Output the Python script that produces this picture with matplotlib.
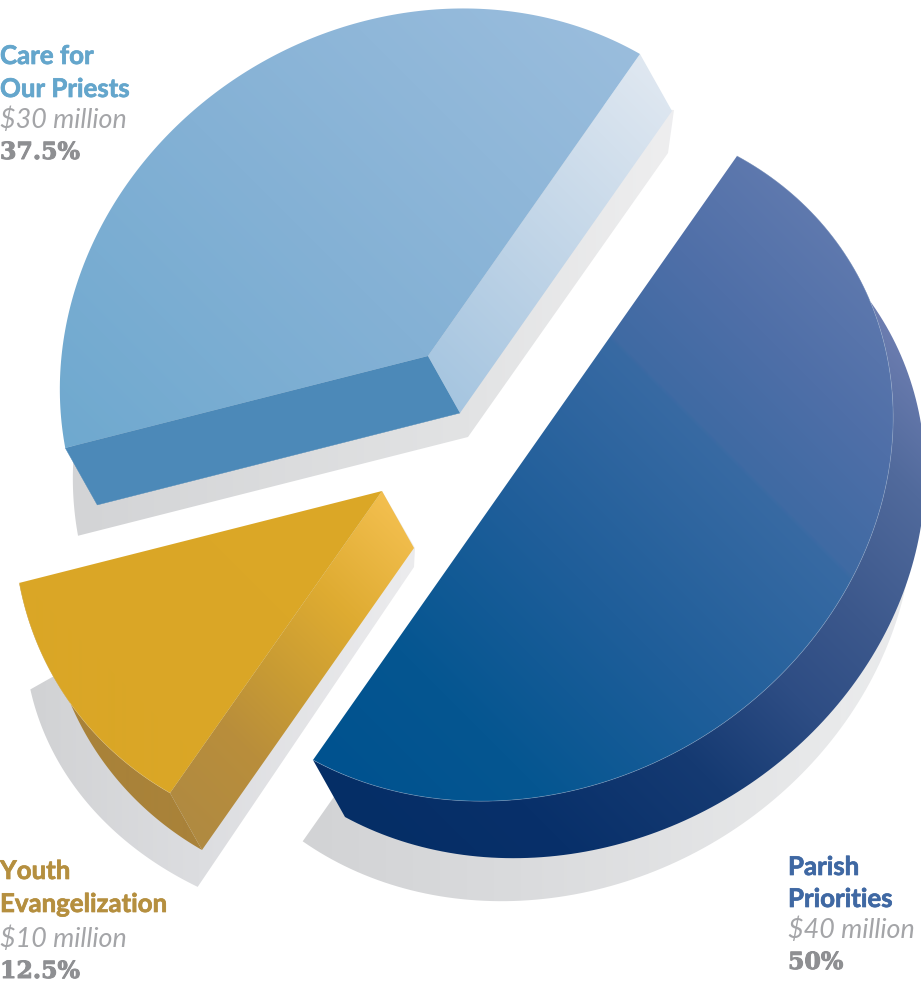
import numpy as np
from matplotlib import pyplot as plt
from matplotlib import patheffects
from matplotlib.colors import to_rgb
from matplotlib.patches import Polygon

# data
names = ["Care for\nOur Priests", "Youth\nEvangelization", "Parish\nPriorities"]
millions = [30, 10, 40]
shares = [37.5, 12.5, 50]
pct_labels = ["37.5%", "12.5%", "50%"]

W, H = 921, 983
fig = plt.figure(figsize=(W / 100, H / 100), dpi=100)
ax = fig.add_axes([0, 0, 1, 1])

# tilted circle in pixels: p = c + cos*E1 + sin*E2
E1 = np.array([212, -302])
E2 = np.array([-301, -172])
E2_PARISH = np.array([-301, -163])
DEPTH = np.array([32, 57])

apex = {"priests": (428, 356), "youth": (382, 491), "parish": (525, 458)}
edges = np.cumsum([0] + shares) * 3.6
th = {"priests": (edges[0], edges[1]), "youth": (edges[1], edges[2]), "parish": (edges[2], edges[3])}

yy, xx = np.mgrid[0:H, 0:W]


def arc(c, t0, t1, sx=1.0, sy=1.0, e2=E2):
    t = np.radians(np.linspace(t0, t1, 160))
    pts = np.outer(np.cos(t), E1) + np.outer(np.sin(t), e2)
    return np.array(c) + pts * [sx, sy]


def fill(pts, stops, direction=(1, -1)):
    # gradient fill, an image clipped to the polygon
    pos = [s[0] for s in stops]
    cols = np.array([to_rgb(s[1]) for s in stops])
    t = xx * direction[0] + yy * direction[1]
    img = np.dstack([np.interp(t, pos, cols[:, i]) for i in range(3)])
    im = ax.imshow(img, extent=(0, W, H, 0), aspect="auto", zorder=2, interpolation="bilinear")
    poly = Polygon(pts, closed=True, fc="none", ec="none", transform=ax.transData)
    ax.add_patch(poly)
    im.set_clip_path(poly)


def solid(pts, color):
    ax.add_patch(Polygon(pts, closed=True, fc=color, ec=color, lw=0.3, zorder=2))


# shadows
s_arc = arc((441, 445), 20, th["priests"][1] - 0.2)
fill(np.vstack([s_arc, [(468, 437)], [(668, 153)], [(674, 110)]]),
     [(75, "#d3d4d6"), (468, "#e2e3e4"), (668, "#eeeeef")], (1, 0))
s_arc = arc((433, 603), th["youth"][0], th["youth"][1], 1.11, 0.94)
fill(np.vstack([s_arc, [(414, 567)], [(415, 548)], [(382, 491)]]),
     [(30, "#d1d2d4"), (198, "#dcdde0"), (400, "#ebebed")], (1, 0))
s_arc = arc((545, 558), 174, 360, e2=E2_PARISH)
fill(np.vstack([s_arc, [s_arc[0] + E1 * 0.4]]), [(304, "#d2d3d5"), (520, "#dadbdd"), (840, "#e9eaeb")], (1, 0))

# parish
c = np.array(apex["parish"])
a = arc(c, *th["parish"], e2=E2_PARISH)
fill(np.vstack([a, (a + DEPTH)[::-1]]),
     [(-471, "#052e66"), (-280, "#08306a"), (-70, "#153a72"), (100, "#2e4d84"), (240, "#3c588c"), (420, "#516a9c"), (560, "#6c7db0")])
fill(a, [(-445, "#00528f"), (-250, "#055691"), (0, "#1f5e9a"), (270, "#386aa3"), (276, "#3f6aa3"), (430, "#4f6fa8"), (600, "#5f79ae")])
ax.plot(a[:, 0], a[:, 1], color="#9fb4d0", lw=0.5, alpha=0.5, zorder=3)

# priests
c = np.array(apex["priests"])
a = arc(c, *th["priests"])
p0, p1 = a[0], a[-1]
solid([c, p1, p1 + DEPTH, c + DEPTH], "#4c89b8")
fill([c, p0, p0 + DEPTH, c + DEPTH], [(40, "#a5c5e0"), (250, "#bcd2e6"), (590, "#e0e8f1")])
fill(np.vstack([[c], a]), [(-382, "#6fa9cf"), (72, "#84b1d5"), (588, "#9abddd")])

# youth
c = np.array(apex["youth"])
a = arc(c, *th["youth"])
p1 = a[-1]
fill(np.vstack([a, (a + DEPTH)[::-1]]), [(-660, "#8f6e30"), (-620, "#a07b38"), (-560, "#a98239")], (1, -0.3))
fill([c, p1, p1 + DEPTH, c + DEPTH],
     [(-640, "#b08a41"), (-500, "#b98e3b"), (-400, "#c89b34"), (-270, "#deab31"), (-110, "#f3bf4f")])
fill(np.vstack([[c], a]), [(-560, "#daa626"), (-100, "#dca827")])
ax.plot(a[:, 0], a[:, 1], color="#e9cf8f", lw=0.4, alpha=0.5, zorder=3)

ax.set_xlim(0, W)
ax.set_ylim(H, 0)
ax.axis("off")

# labels: heading lines, amount, percent
label_pos = [(0, [64, 97, 128, 159]), (0, [879, 912, 947, 978]), (788, [875, 907, 938, 969])]
head_cols = ["#64a6cc", "#b58f3f", "#3f68a3"]
head_size = [18.6, 18.6, 18.6]
heavy = [patheffects.withStroke(linewidth=0.7, foreground="#8e8f92")]
for i in range(3):
    x, ys = label_pos[i]
    l1, l2 = names[i].split("\n")
    head_fx = [patheffects.withStroke(linewidth=0.5, foreground=head_cols[i])]
    ax.text(x, ys[0], l1, color=head_cols[i], fontsize=head_size[i], fontweight="bold", family="Lato", va="baseline",
            zorder=5, path_effects=head_fx)
    ax.text(x, ys[1], l2, color=head_cols[i], fontsize=head_size[i], fontweight="bold", family="Lato", va="baseline",
            zorder=5, path_effects=head_fx)
    ax.text(x, ys[2], "$%d million" % millions[i], color="#a4a5a8", fontsize=19.4, style="italic", fontweight="normal",
            family="Lato", va="baseline", zorder=5)
    ax.text(x, ys[3], pct_labels[i], color="#8e8f92", fontsize=17, fontweight="bold", family="DejaVu Serif",
            va="baseline", zorder=5, path_effects=heavy)

plt.savefig("out.png", dpi=100)
